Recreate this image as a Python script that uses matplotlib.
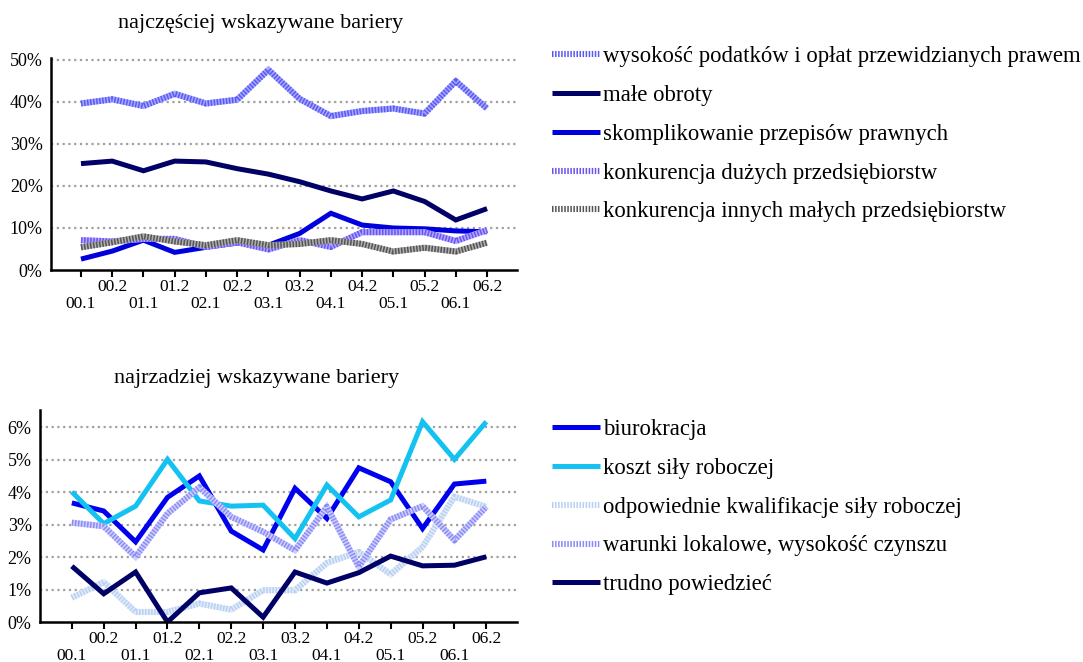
import matplotlib
matplotlib.use('Agg')
import matplotlib.pyplot as plt

plt.rcParams['font.family'] = ['Liberation Serif', 'DejaVu Serif']

# Data
periods = ['00.1', '00.2', '01.1', '01.2', '02.1', '02.2', '03.1',
           '03.2', '04.1', '04.2', '05.1', '05.2', '06.1', '06.2']

# najczesciej wskazywane bariery (%)
podatki = [39.6, 40.6, 39.0, 41.9, 39.6, 40.5, 47.6, 40.7, 36.6, 37.8, 38.4, 37.2, 44.9, 38.4]
male_obroty = [25.3, 25.9, 23.6, 25.9, 25.7, 24.1, 22.8, 21.0, 18.8, 16.9, 18.8, 16.3, 11.9, 14.6]
przepisy = [2.6, 4.5, 7.1, 4.2, 5.4, 6.4, 5.9, 8.7, 13.5, 10.7, 10.0, 9.8, 9.3, 9.1]
konk_duze = [7.1, 6.8, 7.4, 7.4, 5.5, 6.6, 4.9, 7.1, 5.5, 9.0, 9.0, 9.0, 6.9, 9.5]
konk_male = [5.4, 6.6, 8.0, 6.8, 5.9, 7.1, 5.9, 6.2, 7.1, 6.2, 4.4, 5.3, 4.4, 6.5]

# najrzadziej wskazywane bariery (%)
biurokracja = [3.67, 3.42, 2.47, 3.84, 4.50, 2.80, 2.22, 4.12, 3.19, 4.75, 4.32, 2.88, 4.25, 4.34]
koszt = [4.01, 3.03, 3.57, 5.01, 3.73, 3.57, 3.60, 2.57, 4.22, 3.24, 3.76, 6.17, 5.01, 6.17]
kwalifikacje = [0.75, 1.23, 0.31, 0.31, 0.57, 0.38, 0.98, 0.98, 1.82, 2.16, 1.47, 2.31, 3.86, 3.55]
warunki = [3.06, 2.95, 2.01, 3.34, 4.15, 3.24, 2.78, 2.21, 3.55, 1.70, 3.16, 3.57, 2.52, 3.55]
trudno = [1.72, 0.87, 1.54, 0.0, 0.90, 1.05, 0.15, 1.54, 1.20, 1.52, 2.03, 1.73, 1.75, 2.01]

x = list(range(len(periods)))

fig = plt.figure(figsize=(10.83, 6.62), dpi=100)
ax1 = fig.add_axes([0.0471, 0.5921, 0.4303, 0.3202])
ax2 = fig.add_axes([0.0369, 0.0604, 0.4404, 0.3202])


def solid(ax, y, color, label, lw=3.6):
    ax.plot(x, y, color=color, lw=lw, label=label, solid_joinstyle='miter',
            solid_capstyle='butt')


def hatched(ax, y, dark, light, label, lw=4.4):
    # light base + fine dashes on top to mimic the striped pattern
    ax.plot(x, y, color=light, lw=lw, solid_joinstyle='miter', solid_capstyle='butt')
    ax.plot(x, y, color=dark, lw=lw, linestyle=(0, (0.25, 0.25)),
            dash_capstyle='butt', label=label)


hatched(ax1, podatki, '#5a5af5', '#a8a8ff', 'wysokość podatków i opłat przewidzianych prawem')
solid(ax1, male_obroty, '#000066', 'małe obroty')
solid(ax1, przepisy, '#0000dd', 'skomplikowanie przepisów prawnych')
hatched(ax1, konk_duze, '#6a55f0', '#b0a8ff', 'konkurencja dużych przedsiębiorstw')
hatched(ax1, konk_male, '#555555', '#b0b0b0', 'konkurencja innych małych przedsiębiorstw')

solid(ax2, biurokracja, '#0000ee', 'biurokracja')
solid(ax2, koszt, '#14c2f2', 'koszt siły roboczej')
hatched(ax2, kwalifikacje, '#b8d0f2', '#e2ecfa', 'odpowiednie kwalifikacje siły roboczej')
hatched(ax2, warunki, '#8c8cf5', '#cfcfff', 'warunki lokalowe, wysokość czynszu')
solid(ax2, trudno, '#000066', 'trudno powiedzieć')

odd = x[1::2]
even = x[0::2]

for ax, ymax, yticks, xmin in [(ax1, 50.4, [0, 10, 20, 30, 40, 50], -0.96),
                               (ax2, 6.53, [0, 1, 2, 3, 4, 5, 6], -1.0)]:
    ax.set_xlim(xmin, 13.96)
    ax.set_ylim(0, ymax)
    ax.set_yticks(yticks)
    ax.set_yticklabels([f'{t}%' for t in yticks])
    for t in yticks[1:]:
        ax.axhline(t, color='#a0a0a0', lw=1.6, linestyle=(0, (1, 1.6)), zorder=0)
    ax.set_xticks(odd)
    ax.set_xticklabels([periods[i] for i in odd])
    ax.set_xticks(even, minor=True)
    ax.set_xticklabels([periods[i] for i in even], minor=True)
    ax.tick_params(axis='x', which='both', direction='out', length=5, width=1.5,
                   labelsize=12.5)
    ax.tick_params(axis='x', which='major', pad=1.5)
    ax.tick_params(axis='x', which='minor', pad=13.5)
    ax.tick_params(axis='y', length=0, labelsize=13, pad=6)
    for s in ['top', 'right']:
        ax.spines[s].set_visible(False)
    for s in ['left', 'bottom']:
        ax.spines[s].set_linewidth(1.8)
        ax.spines[s].set_color('black')

fig.text(0.2405, 0.965, 'najczęściej wskazywane bariery', fontsize=16, ha='center', va='center')
fig.text(0.2365, 0.428, 'najrzadziej wskazywane bariery', fontsize=16, ha='center', va='center')

leg_kw = dict(frameon=False, loc='upper left', fontsize=16.4, handlelength=2.1,
              handletextpad=0.13, labelspacing=0.78, borderpad=0, borderaxespad=0)
ax1.legend(bbox_to_anchor=(0.5097, 0.930), bbox_transform=fig.transFigure, **leg_kw)
ax2.legend(bbox_to_anchor=(0.5097, 0.3668), bbox_transform=fig.transFigure, **leg_kw)

fig.savefig('out.png', dpi=100)
